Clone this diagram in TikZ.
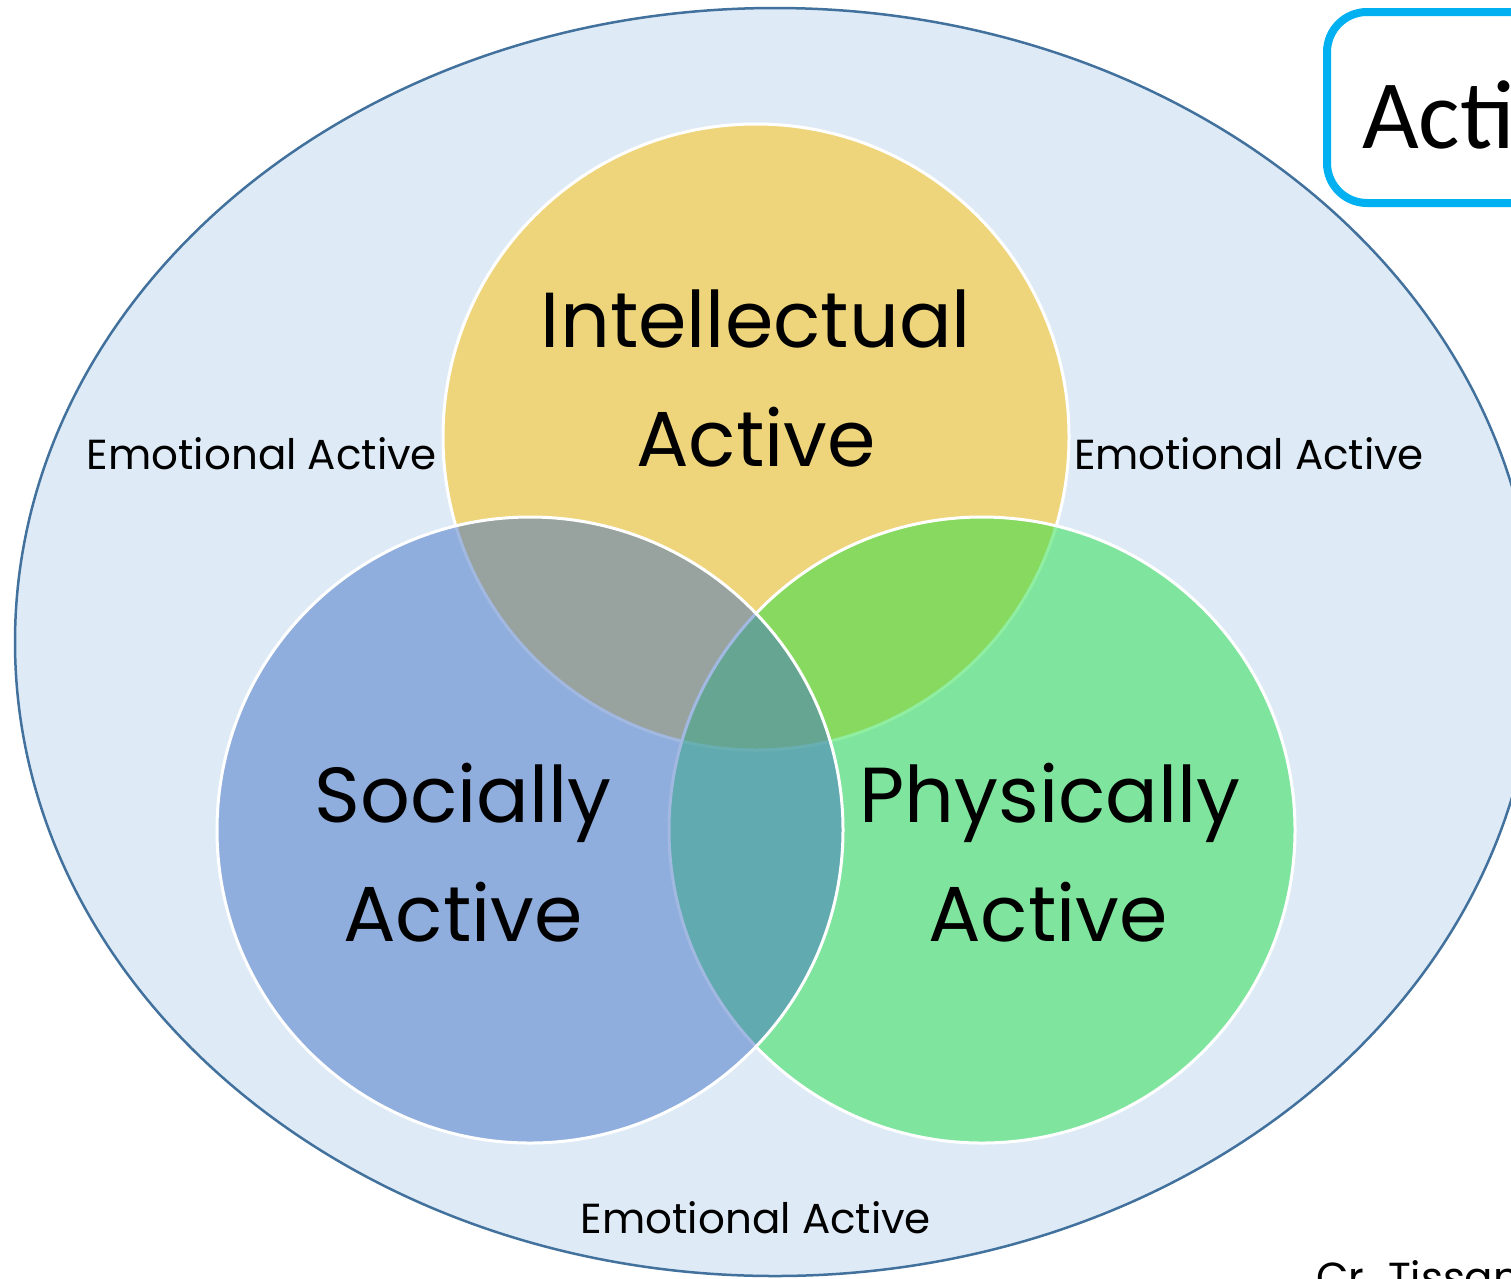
\documentclass[tikz,border=0pt]{standalone}
\usepackage{fontspec}
\setmainfont{Poppins}
\newfontfamily\titlefont{Carlito}
\usepackage{tikz}
\definecolor{bgfill}{RGB}{222,235,247}
\definecolor{bgline}{RGB}{65,113,156}
\definecolor{intelcol}{RGB}{255,192,0}
\definecolor{physcol}{RGB}{34,223,69}
\definecolor{socialcol}{RGB}{68,114,196}
\definecolor{framecol}{RGB}{0,176,240}

\begin{document}
\begin{tikzpicture}[x=1pt,y=-1pt,
  set/.style={circle,minimum size=626pt,inner sep=0pt,draw=white,line width=3pt,fill opacity=0.5},
  big/.style={anchor=base,inner sep=0pt,font=\fontsize{78}{94}\selectfont},
  emo/.style={anchor=base,inner sep=0pt,font=\fontsize{42}{50}\selectfont}]
  \useasboundingbox (0,0) rectangle (1511,1278);
  \clip (0,0) rectangle (1511,1278);
  %outer
  \draw[fill=bgfill,draw=bgline,line width=2.5pt] (775,642) ellipse (760 and 634);
  %circles
  \node[set,fill=intelcol] (intel) at (756,437) {};
  \node[set,fill=physcol] (phys) at (982,830) {};
  \node[set,fill=socialcol] (social) at (530,830) {};
  %labels
  \node[big] (intel1) at (756,347) {Intellectual};
  \node[big] (intel2) at (756,466) {Active};
  \node[big] (social1) at (463,822) {Socially};
  \node[big] (social2) at (463,941) {Active};
  \node[big] (phys1) at (1050,822) {Physically};
  \node[big] (phys2) at (1048,941) {Active};
  \node[emo] (emoleft) at (262,469) {Emotional Active};
  \node[emo] (emoright) at (1249,469) {Emotional Active};
  \node[emo] (emobottom) at (756,1233) {Emotional Active};
  %title
  \draw[framecol,line width=8pt,rounded corners=40pt] (1620,203) -- (1327,203) -- (1327,12) -- (1620,12);
  \node[anchor=base west,inner sep=0pt,font=\titlefont\fontsize{98}{110}\selectfont] (title) at (1362,148) {Acti};
  \node[emo,anchor=base west] (credit) at (1316,1292) {Cr. Tissan};
\end{tikzpicture}
\end{document}
